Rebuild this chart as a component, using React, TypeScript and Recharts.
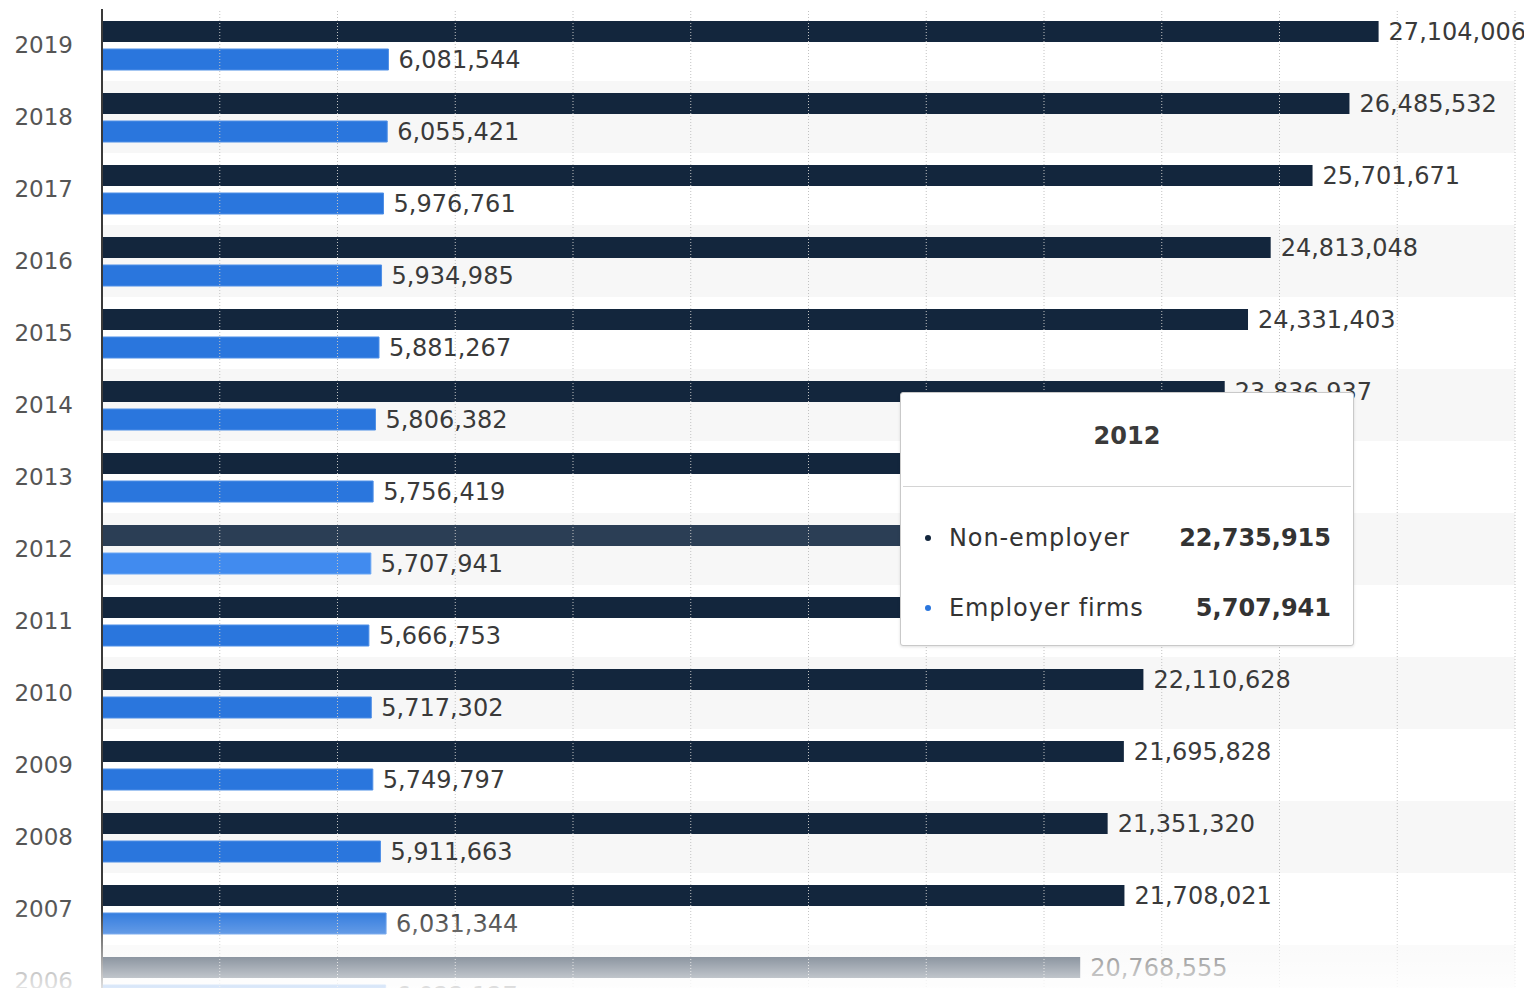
import React from 'react';
import {
  BarChart,
  Bar,
  XAxis,
  YAxis,
  Tooltip,
  LabelList,
  Cell,
  ReferenceArea,
  ReferenceLine,
} from 'recharts';

const years = ['2019', '2018', '2017', '2016', '2015', '2014', '2013', '2012', '2011', '2010', '2009', '2008', '2007', '2006'];
const nonEmployer = [27104006, 26485532, 25701671, 24813048, 24331403, 23836937, 23005620, 22735915, 22491080, 22110628, 21695828, 21351320, 21708021, 20768555];
const employerFirms = [6081544, 6055421, 5976761, 5934985, 5881267, 5806382, 5756419, 5707941, 5666753, 5717302, 5749797, 5911663, 6031344, 6022127];
const xTicks = [0, 2500000, 5000000, 7500000, 10000000, 12500000, 15000000, 17500000, 20000000, 22500000, 25000000, 27500000, 30000000];
const activeYear = '2012';
const seriesNames = ['Non-employer', 'Employer firms'];

const data = years.map((year, i) => ({
  year,
  nonEmployer: nonEmployer[i],
  employerFirms: employerFirms[i],
}));
const stripeYears = years.filter((_, i) => i % 2 === 1);
const activeIndex = years.indexOf(activeYear);

const FONT = '"DejaVu Sans", Verdana, sans-serif';
const DARK = '#13263d';
const DARK_ACTIVE = '#2b3e55';
const BLUE = '#2a76dd';
const BLUE_ACTIVE = '#418bef';

const fmt = (v: any) => Number(v).toLocaleString('en-US');

const TooltipBox = (props: any) => {
  const { payload } = props;
  const row = payload && payload.length ? payload[0].payload : data[activeIndex];
  const rows = [
    { name: seriesNames[0], value: row.nonEmployer, color: DARK },
    { name: seriesNames[1], value: row.employerFirms, color: BLUE },
  ];
  return (
    <div
      style={{
        width: 452,
        height: 252,
        background: '#fff',
        border: '1px solid #c9c9c9',
        borderRadius: 3,
        boxShadow: '0 1px 3px rgba(0,0,0,0.12)',
        position: 'relative',
        fontFamily: FONT,
        color: '#333',
      }}
    >
      <div
        style={{
          position: 'absolute',
          top: 0,
          left: 0,
          right: 0,
          height: 86,
          lineHeight: '86px',
          textAlign: 'center',
          fontWeight: 600,
          fontSize: 24,
          color: '#3a3a3a',
        }}
      >
        {row.year}
      </div>
      <div style={{ position: 'absolute', top: 93, left: 2, right: 2, height: 1, background: '#d4d4d4' }} />
      {rows.map((r, i) => (
        <div key={r.name} style={{ position: 'absolute', top: 125 + i * 70, left: 0, right: 0, height: 40 }}>
          <div
            style={{
              position: 'absolute',
              left: 24,
              top: 17,
              width: 6,
              height: 6,
              borderRadius: 3,
              background: r.color,
            }}
          />
          <div
            style={{
              position: 'absolute',
              left: 48,
              top: 0,
              lineHeight: '40px',
              fontSize: 24,
              letterSpacing: 0.9,
              whiteSpace: 'nowrap',
            }}
          >
            {r.name}
          </div>
          <div
            style={{
              position: 'absolute',
              right: 22,
              top: 0,
              lineHeight: '40px',
              fontSize: 24,
              fontWeight: 600,
              whiteSpace: 'nowrap',
            }}
          >
            {fmt(r.value)}
          </div>
        </div>
      ))}
    </div>
  );
};

export default function App() {
  return (
    <div style={{ position: 'relative', width: 1524, height: 980, overflow: 'hidden' }}>
      <style>{'html,body{overflow:hidden;}'}</style>
      <BarChart
        width={1524}
        height={1009}
        data={data}
        layout="vertical"
        margin={{ top: 1, right: 17, bottom: 0, left: 0 }}
        barSize={21}
        barGap={7}
        barCategoryGap={11}
      >
        {stripeYears.map((y) => (
          <ReferenceArea key={y} y1={y} y2={y} fill="#f7f7f7" fillOpacity={1} stroke="none" ifOverflow="visible" />
        ))}
        {xTicks.slice(1).map((t) => (
          <ReferenceLine key={t} x={t} stroke="#c2c2c2" strokeWidth={1} strokeDasharray="1 2" ifOverflow="visible" />
        ))}
        <XAxis
          type="number"
          domain={[0, 30000000]}
          ticks={xTicks}
          height={0}
          tick={false}
          axisLine={false}
          tickLine={false}
        />
        <YAxis
          type="category"
          dataKey="year"
          width={94}
          axisLine={{ stroke: '#3a3a3a', strokeWidth: 2 }}
          tickLine={false}
          tickMargin={23}
          tick={{ fill: '#555', fontSize: 23, fontFamily: FONT }}
        />
        <Tooltip
          active
          defaultIndex={activeIndex}
          cursor={false}
          isAnimationActive={false}
          position={{ x: 892, y: 384 }}
          content={(p: any) => <TooltipBox {...p} />}
          wrapperStyle={{ zIndex: 10 }}
        />
        <Bar dataKey="nonEmployer" name={seriesNames[0]} fill={DARK} isAnimationActive={false}>
          {data.map((d) => (
            <Cell key={d.year} fill={d.year === activeYear ? DARK_ACTIVE : DARK} />
          ))}
          <LabelList
            dataKey="nonEmployer"
            position="right"
            offset={10}
            formatter={fmt}
            style={{ fill: '#3a3a3a', fontSize: 24, fontFamily: FONT }}
          />
        </Bar>
        <Bar dataKey="employerFirms" name={seriesNames[1]} fill={BLUE} isAnimationActive={false}>
          {data.map((d) => (
            <Cell
              key={d.year}
              fill={d.year === activeYear ? BLUE_ACTIVE : BLUE}
              stroke={d.year === activeYear ? '#6aa6f3' : '#4f8fe6'}
              strokeWidth={1}
            />
          ))}
          <LabelList
            dataKey="employerFirms"
            position="right"
            offset={10}
            formatter={fmt}
            style={{ fill: '#3a3a3a', fontSize: 24, fontFamily: FONT }}
          />
        </Bar>
      </BarChart>
      <div
        style={{
          position: 'absolute',
          left: -8,
          top: 900,
          width: 1532,
          height: 88,
          pointerEvents: 'none',
          background: 'linear-gradient(to bottom, rgba(255,255,255,0) 0%, rgba(255,255,255,0.6) 65%, rgba(255,255,255,0.92) 100%)',
        }}
      />
    </div>
  );
}
